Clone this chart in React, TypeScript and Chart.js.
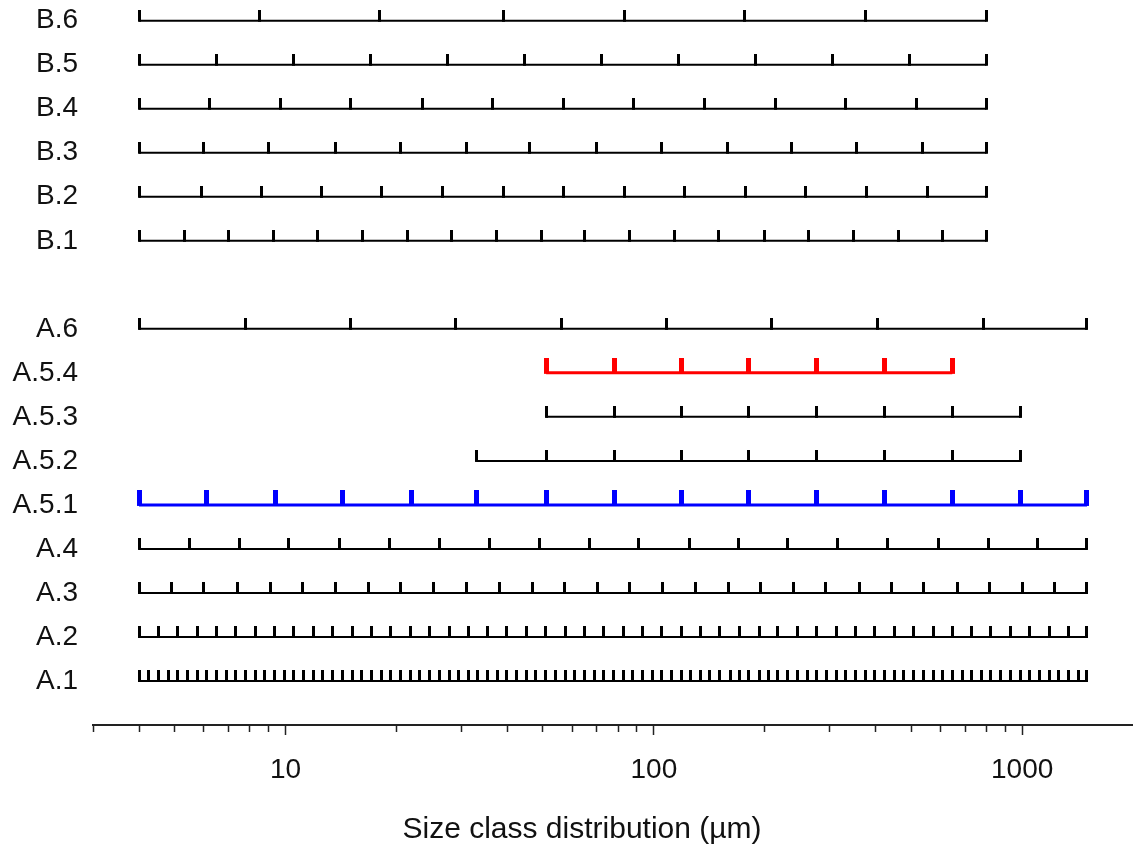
import React, { useEffect, useRef } from 'react';
import { Chart, registerables } from 'chart.js';

Chart.register(...registerables);

const FONT = '"Liberation Sans", Arial, Helvetica, sans-serif';

// Row labels (bottom to top) and their positions on the category axis (9 = empty gap row)
const ROW_LABELS = ['A.1', 'A.2', 'A.3', 'A.4', 'A.5.1', 'A.5.2', 'A.5.3', 'A.5.4', 'A.6', 'B.1', 'B.2', 'B.3', 'B.4', 'B.5', 'B.6'];
const ROW_POSITIONS = [0, 1, 2, 3, 4, 5, 6, 7, 8, 10, 11, 12, 13, 14, 15];

// Size class boundaries (µm) for each scheme
const A1 = [4, 4.25, 4.52, 4.8, 5.1, 5.41, 5.75, 6.11, 6.49, 6.9, 7.33, 7.78, 8.27, 8.79, 9.34, 9.92, 10.5, 11.2, 11.9, 12.6,
  13.4, 14.3, 15.2, 16.1, 17.1, 18.2, 19.3, 20.5, 21.8, 23.1, 24.6, 26.1, 27.8, 29.5, 31.3, 33.3, 35.4, 37.6, 39.9, 42.4,
  45, 47.8, 50.8, 54, 57.4, 61, 64.8, 68.8, 73.1, 77.7, 82.5, 87.7, 93.1, 98.9, 105, 112, 119, 126, 134, 142,
  151, 161, 171, 181, 193, 205, 217, 231, 245, 261, 277, 294, 313, 332, 353, 375, 398, 423, 449, 477,
  507, 539, 573, 608, 646, 687, 729, 775, 823, 875, 929, 987, 1049, 1114, 1184, 1258, 1336, 1420, 1500];
const A2 = [4, 4.52, 5.1, 5.75, 6.49, 7.33, 8.27, 9.34, 10.5, 11.9, 13.4, 15.2, 17.1, 19.3, 21.8, 24.6, 27.8, 31.3, 35.4, 39.9,
  45, 50.8, 57.4, 64.8, 73.1, 82.5, 93.1, 105, 119, 134, 151, 171, 193, 217, 245, 277, 313, 353, 398, 449,
  507, 573, 646, 729, 823, 929, 1049, 1184, 1336, 1500];
const A3 = [4, 4.9, 6, 7.4, 9.1, 11.1, 13.7, 16.8, 20.5, 25.2, 30.9, 38.1, 46.7, 57.1, 70.2, 85.8, 105.7, 129.6, 159, 195,
  239, 293, 361, 442, 541, 667, 815, 1001, 1228, 1500];
const A4 = [4, 5.5, 7.5, 10.2, 14, 19.1, 26.1, 35.7, 48.8, 66.7, 91, 125, 170, 231, 316, 432, 591, 808, 1104, 1500];
const A51 = [4, 6.1, 9.4, 14.3, 22, 33, 51, 78, 119, 181, 277, 424, 646, 990, 1500];
const A52 = [33, 51, 78, 119, 181, 277, 424, 646, 990];
const A53 = [51, 78, 119, 181, 277, 424, 646, 990];
const A54 = [51, 78, 119, 181, 277, 424, 646];
const A6 = [4, 7.8, 15, 29, 56, 108, 209, 404, 783, 1500];
const B1 = [4, 5.3, 7, 9.3, 12.2, 16.2, 21.4, 28.3, 37.4, 49.5, 65, 86, 114, 150, 200, 263, 349, 461, 609, 800];
const B2 = [4, 5.9, 8.6, 12.5, 18.2, 26.6, 39, 57, 83, 121, 177, 258, 377, 552, 800];
const B3 = [4, 6, 9, 13.7, 20.5, 31, 46, 70, 105, 158, 237, 356, 535, 800];
const B4 = [4, 6.2, 9.7, 15, 23.5, 36.5, 57, 88, 137, 214, 332, 516, 800];
const B5 = [4, 6.5, 10.5, 17, 27.5, 44.5, 72, 117, 189, 306, 496, 800];
const B6 = [4, 8.5, 18, 39, 83, 176, 375, 800];

const SERIES = [A1, A2, A3, A4, A51, A52, A53, A54, A6, B1, B2, B3, B4, B5, B6];

// x-axis tick values and which carry labels
const X_TICKS = [3, 4, 5, 6, 7, 8, 9, 10, 20, 30, 40, 50, 60, 70, 80, 90, 100, 200, 300, 400, 500, 600, 700, 800, 900, 1000];
const X_LABELED = [10, 100, 1000];

const ROW_COLORS = ['#000', '#000', '#000', '#000', '#0000ff', '#000', '#000', '#ff0000', '#000', '#000', '#000', '#000', '#000', '#000', '#000'];

function makeTick(color: string, w: number, half: number) {
  const c = document.createElement('canvas');
  c.width = w;
  c.height = half * 2;
  const ctx = c.getContext('2d')!;
  ctx.fillStyle = color;
  ctx.fillRect(0, 0, w, half + 1);
  return c;
}

// let the row labels extend left of the y-axis box without being clipped
const unclipLabels = {
  id: 'unclipLabels',
  afterLayout(chart: any) {
    if (chart.scales.y) chart.scales.y.left = 0;
  },
};

export default function App() {
  const ref = useRef<HTMLCanvasElement>(null);

  useEffect(() => {
    const canvas = ref.current;
    if (!canvas) return;

    const datasets = SERIES.map((bounds, i) => {
      const color = ROW_COLORS[i];
      const bold = color !== '#000';
      const tick = bold ? makeTick(color, 5, 15) : makeTick(color, 3, 11);
      return {
        label: ROW_LABELS[i],
        data: bounds.map((v) => ({ x: v, y: ROW_POSITIONS[i] })),
        showLine: true,
        borderColor: color,
        backgroundColor: color,
        borderWidth: bold ? 3 : 2,
        borderCapStyle: 'butt' as const,
        pointStyle: tick,
        pointRadius: 2,
        pointHoverRadius: 2,
        fill: false,
        tension: 0,
      };
    });

    const chart = new Chart(canvas, {
      type: 'scatter',
      data: { datasets },
      plugins: [unclipLabels],
      options: {
        animation: false,
        responsive: false,
        events: [],
        layout: { autoPadding: false, padding: { left: 31, right: 0, top: 0, bottom: 0 } },
        plugins: {
          legend: { display: false },
          tooltip: { enabled: false },
          title: {
            display: true,
            position: 'bottom',
            text: 'Size class distribution (µm)',
            color: '#111',
            font: { family: FONT, size: 30, weight: 'normal' },
            padding: { top: 0, bottom: 6 },
          },
        },
        scales: {
          x: {
            type: 'logarithmic',
            min: 3,
            max: 2000,
            afterBuildTicks: (s: any) => {
              s.ticks = X_TICKS.map((v) => ({ value: v, major: X_LABELED.includes(v) }));
            },
            afterFit: (s: any) => {
              s.height = 87;
              s.paddingLeft = 0;
              s.paddingRight = 0;
              s.paddingTop = 0;
              s.paddingBottom = 0;
            },
            border: { display: true, color: '#222', width: 2 },
            grid: {
              display: true,
              drawOnChartArea: false,
              drawTicks: true,
              tickLength: 10,
              tickWidth: 1.5,
              tickColor: '#222',
              tickBorderDash: (ctx: any) => (ctx.tick && X_LABELED.includes(ctx.tick.value) ? [] : [6, 30]),
            },
            ticks: {
              autoSkip: false,
              maxRotation: 0,
              minRotation: 0,
              padding: 18,
              color: '#111',
              font: { family: FONT, size: 28 },
              callback: (v: any) => (X_LABELED.includes(Number(v)) ? String(v) : ''),
            },
          },
          y: {
            type: 'linear',
            min: -1,
            max: 15.47,
            afterBuildTicks: (s: any) => {
              s.ticks = ROW_POSITIONS.map((v) => ({ value: v }));
            },
            afterFit: (s: any) => {
              s.width = 62;
              s.paddingTop = 0;
              s.paddingBottom = 0;
              s.paddingLeft = 0;
              s.paddingRight = 0;
            },
            border: { display: false },
            grid: { display: false, drawTicks: false, tickLength: 0 },
            ticks: {
              autoSkip: false,
              padding: 15,
              color: '#111',
              font: { family: FONT, size: 28 },
              callback: (v: any) => {
                const idx = ROW_POSITIONS.indexOf(Number(v));
                return idx >= 0 ? ROW_LABELS[idx] : '';
              },
            },
          },
        },
      },
    });

    return () => chart.destroy();
  }, []);

  return (
    <div style={{ position: 'absolute', left: 0, top: 0, width: 1133, height: 854, background: '#fff' }}>
      <canvas ref={ref} width={1133} height={854} style={{ display: 'block', width: 1133, height: 854 }} />
    </div>
  );
}
